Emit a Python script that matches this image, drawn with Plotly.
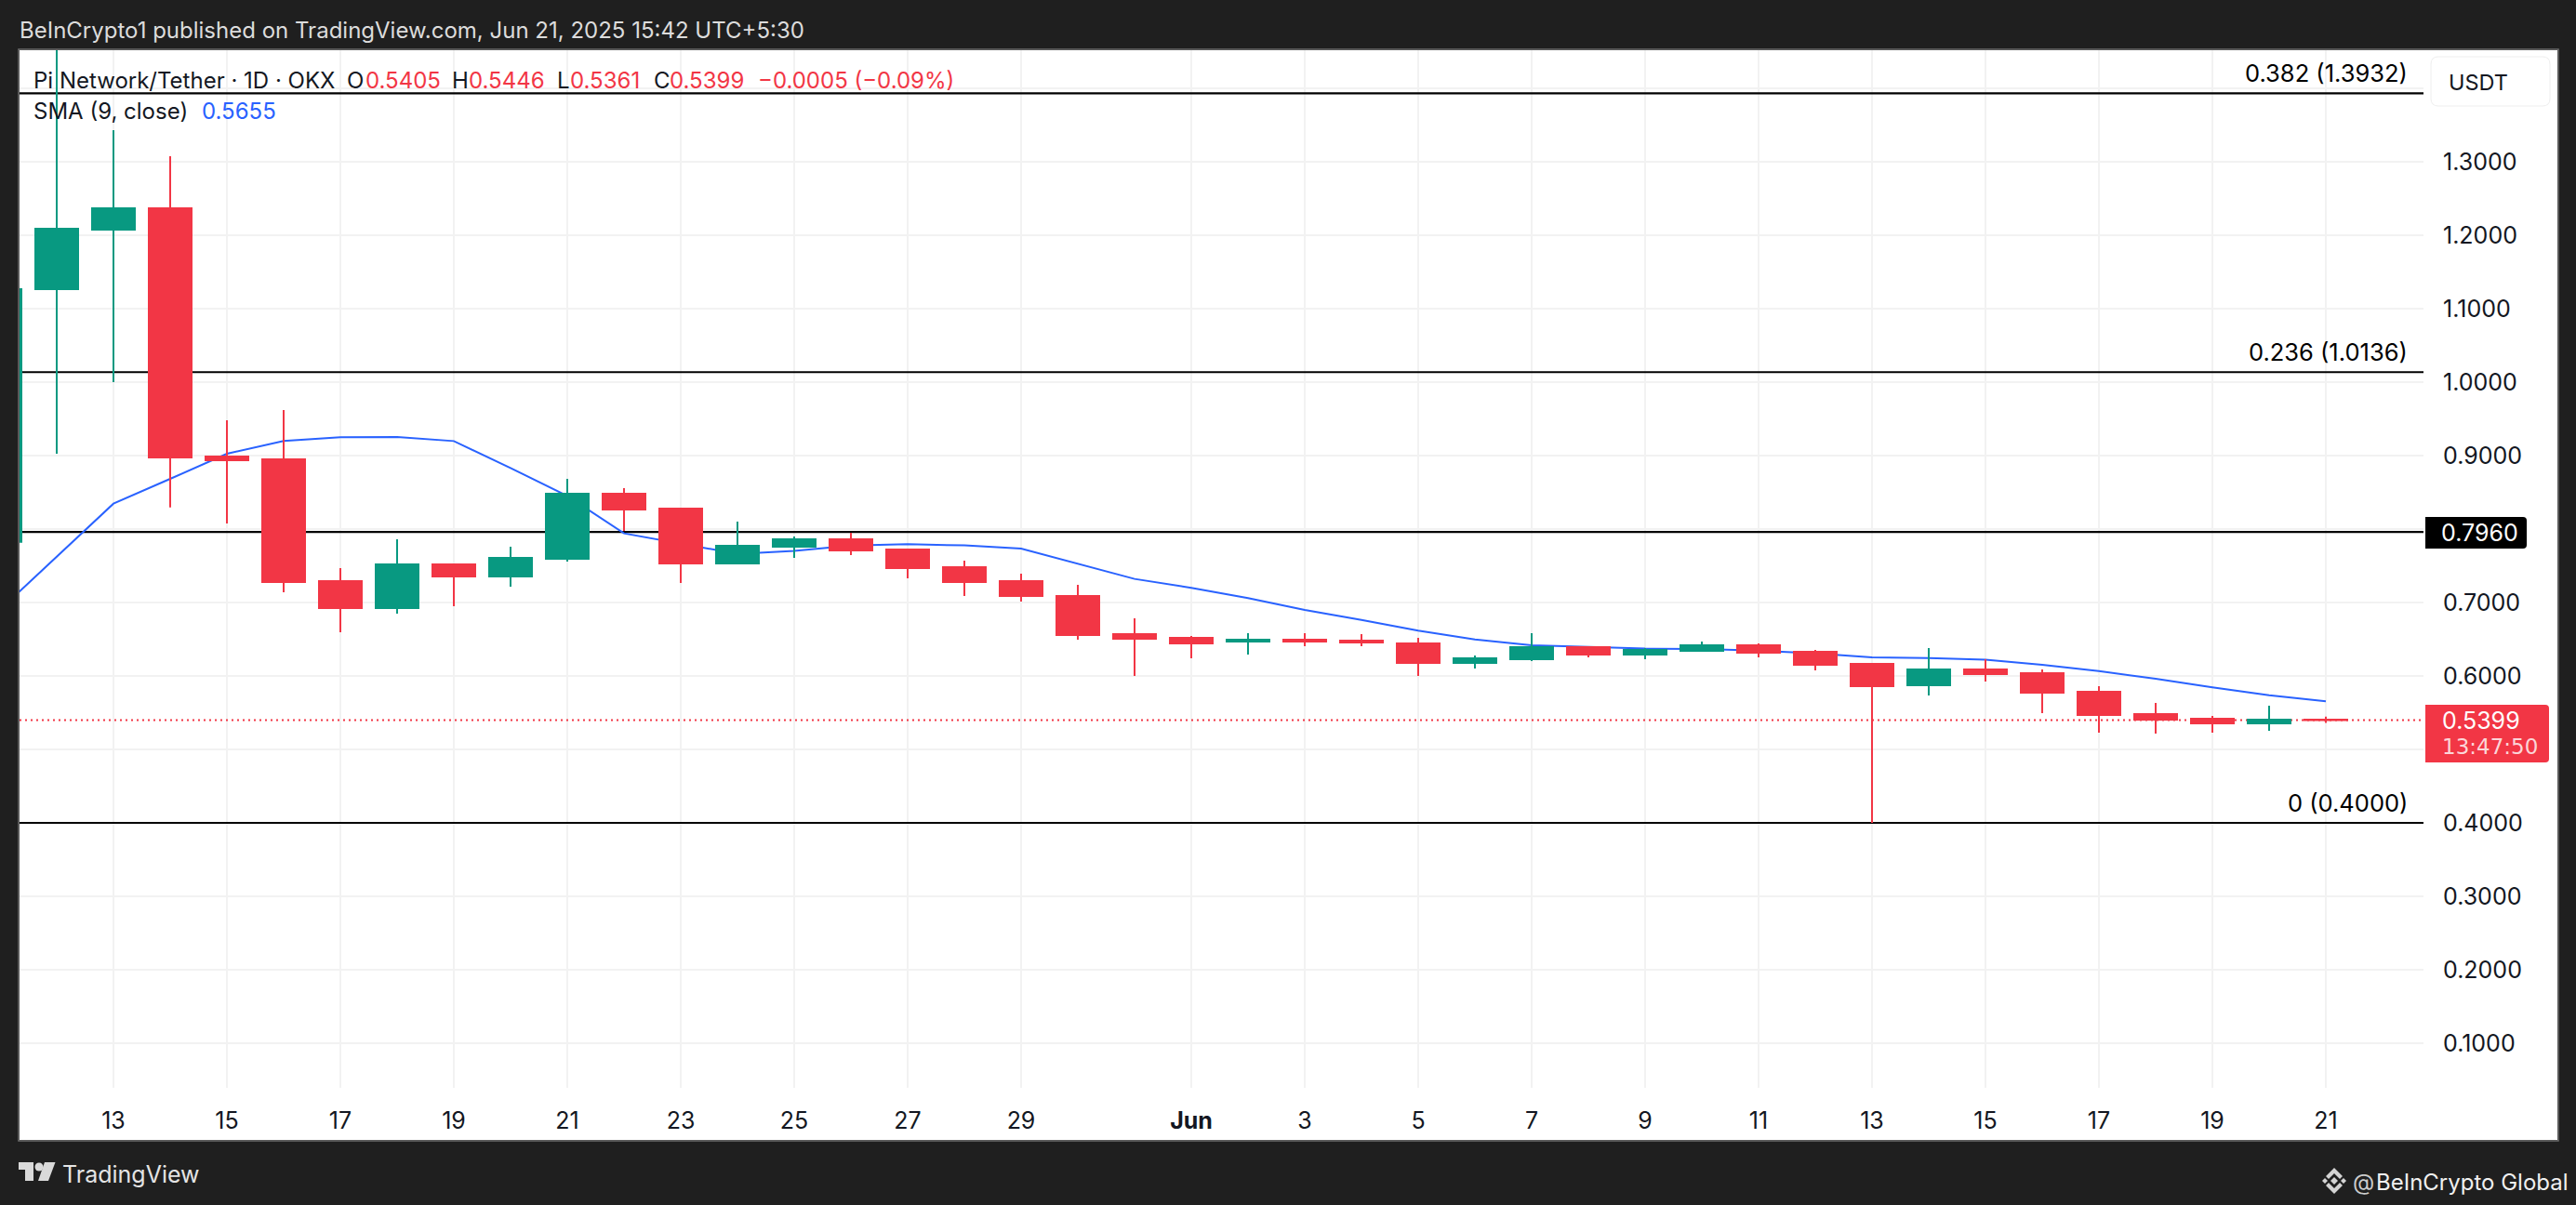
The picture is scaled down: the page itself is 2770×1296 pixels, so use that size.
import plotly.graph_objects as go
from datetime import date, timedelta, datetime

start = date(2025, 5, 11)
opens = [.7827,1.1266,1.2076,1.2367,.8987,.8949,.7291,.6924,.7519,.7354,.7595,.8481,.8278,.7531,.7759,.7861,.7721,
         .7481,.7292,.7089,.6570,.6519,.6469,.6494,.6481,.6443,.6178,.6228,.6393,.6292,.6342,.6418,.6329,.6164,.5873,.6088,.6038,.5785,.5481,.5418,.5354,.5405]
highs = [1.1500,1.6700,1.3430,1.3076,.9481,.9620,.7468,.7860,.7531,.7759,.8683,.8557,.8278,.8101,.7899,.7949,.7734,
         .7570,.7393,.7241,.6785,.6545,.6583,.6583,.6570,.6519,.6279,.6583,.6405,.6380,.6469,.6443,.6354,.6164,.6380,.6228,.6088,.5861,.5633,.5456,.5595,.5446]
lows = [.7000,.9025,1.0000,.8295,.8076,.7139,.6595,.6848,.6949,.7215,.7557,.7974,.7266,.7531,.7607,.7645,.7329,
        .7089,.7013,.6494,.6000,.6241,.6292,.6405,.6405,.6000,.6102,.6203,.6254,.6228,.6330,.6254,.6076,.4000,.5734,.5924,.5493,.5228,.5215,.5228,.5253,.5361]
closes = [1.1266,1.2089,1.2367,.8974,.8936,.7278,.6924,.7519,.7354,.7607,.8481,.8266,.7531,.7772,.7861,.7709,.7468,
          .7279,.7089,.6557,.6507,.6443,.6494,.6469,.6456,.6178,.6241,.6393,.6292,.6355,.6418,.6317,.6152,.5861,.6088,.6025,.5772,.5468,.5405,.5354,.5405,.5399]
sma = [.6902,.7628,.8346,.8683,.9025,.9198,.9249,.9253,.9198,.8831,.8451,.7941,.7797,.7662,.7704,.7776,.7793,
       .7778,.7734,.7524,.7321,.7199,.7059,.6899,.6764,.6616,.6498,.6418,.6397,.6372,.6367,.6345,.6308,.6253,.6245,.6223,.6152,.6067,.5962,.5844,.5738,.5655]
dates = [(start + timedelta(days=i)).isoformat() for i in range(len(closes))]

fib_levels = [1.3932, 1.0136, 0.7960, 0.4000]
fib_labels = ["0.382 (1.3932)", "0.236 (1.0136)", "", "0 (0.4000)"]
last_close = 0.5399
y_ticks = [0.1, 0.2, 0.3, 0.4, 0.5, 0.6, 0.7, 0.8, 0.9, 1.0, 1.1, 1.2, 1.3, 1.4]
y_labels = ["0.1000", "0.2000", "0.3000", "0.4000", "", "0.6000", "0.7000", "", "0.9000", "1.0000", "1.1000", "1.2000", "1.3000", ""]
x_ticks = ["2025-05-13","2025-05-15","2025-05-17","2025-05-19","2025-05-21","2025-05-23","2025-05-25","2025-05-27","2025-05-29",
           "2025-06-01","2025-06-03","2025-06-05","2025-06-07","2025-06-09","2025-06-11","2025-06-13","2025-06-15","2025-06-17","2025-06-19","2025-06-21"]
x_labels = ["13","15","17","19","21","23","25","27","29","<b>Jun</b>","3","5","7","9","11","13","15","17","19","21"]

W, H = 2770, 1296
L, R, T, B = 21, 2606, 54, 1170
RED, TEAL, BLUE, INK = "#f23645", "#089981", "#2962ff", "#131722"
DARK, GRID, FONT = "#1f1f1f", "#f2f2f2", "Inter"

def px(x): return (x - L) / (R - L)
def py(y): return (B - y) / (B - T)

ref = datetime(2025, 5, 13)
x0 = (ref + timedelta(days=(L - 122) / 61)).isoformat(sep=" ")
x1 = (ref + timedelta(days=(R - 122) / 61)).isoformat(sep=" ")
y_range = [1.3 - (B - 174) / 790, 1.3 + (174 - T) / 790]

fig = go.Figure()
for lv in fib_levels:
    fig.add_trace(go.Scatter(x=[x0, x1], y=[lv, lv], mode="lines", line=dict(color="#000000", width=2.2), yaxis="y", showlegend=False, hoverinfo="skip"))
fig.add_trace(go.Scatter(x=[x0, x1], y=[last_close, last_close], mode="lines", line=dict(color=RED, width=2, dash="2px,4px"), yaxis="y", showlegend=False, hoverinfo="skip"))
fig.add_trace(go.Scatter(x=dates, y=sma, mode="lines", line=dict(color=BLUE, width=2), yaxis="y", showlegend=False, hoverinfo="skip"))
fig.add_trace(go.Candlestick(
    x=dates, open=opens, high=highs, low=lows, close=closes, yaxis="y2", showlegend=False,
    increasing=dict(line=dict(color=TEAL, width=2), fillcolor=TEAL),
    decreasing=dict(line=dict(color=RED, width=2), fillcolor=RED),
))

shapes = []
def poly(points, color, layer="above"):
    d = "M" + " L".join(f"{px(a):.6f},{py(b):.6f}" for a, b in points) + " Z"
    shapes.append(dict(type="path", xref="paper", yref="paper", path=d, fillcolor=color, line=dict(width=0), layer=layer))
def rect(a, b, c, d, color, layer="above", line=None):
    shapes.append(dict(type="rect", xref="paper", yref="paper", x0=px(a), x1=px(c), y0=py(b), y1=py(d),
                       fillcolor=color, line=line or dict(width=0), layer=layer))

rect(L, T, 2750, 1226, "#ffffff", layer="below")
rect(L - 1, T - 1, 2751, 1227, "rgba(0,0,0,0)", line=dict(color="#6e6e6e", width=1.5))
# USDT box
shapes.append(dict(type="path", xref="paper", yref="paper", fillcolor="#ffffff", line=dict(color="#eeeeee", width=1), layer="above",
    path=f"M{px(2622)},{py(61)} L{px(2734)},{py(61)} Q{px(2742)},{py(61)} {px(2742)},{py(69)} L{px(2742)},{py(106)} Q{px(2742)},{py(114)} {px(2734)},{py(114)} "
         f"L{px(2622)},{py(114)} Q{px(2614)},{py(114)} {px(2614)},{py(106)} L{px(2614)},{py(69)} Q{px(2614)},{py(61)} {px(2622)},{py(61)} Z"))
# last price tags
def tag(a, b, c, d, color, r=4):
    shapes.append(dict(type="path", xref="paper", yref="paper", fillcolor=color, line=dict(width=0), layer="above",
        path=f"M{px(a)},{py(b)} L{px(c-r)},{py(b)} Q{px(c)},{py(b)} {px(c)},{py(b+r)} L{px(c)},{py(d-r)} Q{px(c)},{py(d)} {px(c-r)},{py(d)} L{px(a)},{py(d)} Z"))
tag(2608, 556, 2717, 590, "#000000")
tag(2608, 758, 2741, 820, RED)
# TradingView mark
LOGO = "#d9d9d9"
poly([(20,1250),(36,1250),(36,1270),(27,1270),(27,1258),(20,1258)], LOGO)
shapes.append(dict(type="circle", xref="paper", yref="paper", x0=px(37.5), x1=px(46.5), y0=py(1250.5), y1=py(1259.5), fillcolor=LOGO, line=dict(width=0)))
poly([(48,1250),(59.5,1250),(52,1270),(41,1270)], LOGO)
# Binance-style mark
cx, cy = 2510, 1270
MARK = "#d4d4d4"
poly([(cx,cy-4),(cx+4,cy),(cx,cy+4),(cx-4,cy)], MARK)
poly([(cx-13,cy),(cx-10,cy-3),(cx-7,cy),(cx-10,cy+3)], MARK)
poly([(cx+13,cy),(cx+10,cy-3),(cx+7,cy),(cx+10,cy+3)], MARK)
poly([(cx,cy-14),(cx+9,cy-5),(cx+6,cy-2),(cx,cy-8),(cx-6,cy-2),(cx-9,cy-5)], MARK)
poly([(cx,cy+14),(cx+9,cy+5),(cx+6,cy+2),(cx,cy+8),(cx-6,cy+2),(cx-9,cy+5)], MARK)

ann = []
def text(x, y, s, color=INK, size=24, anchor="left", **kw):
    ann.append(dict(xref="paper", yref="paper", x=px(x), y=py(y), text=s, showarrow=False, xanchor=anchor, yanchor="middle",
                    borderpad=0, borderwidth=0, font=dict(family=kw.pop("family", FONT), size=size, color=color), **kw))

text(21, 32, "BeInCrypto1 published on TradingView.com, Jun 21, 2025 15:42 UTC+5:30", "#dcdcdc", 24)
text(36, 86, "Pi Network/Tether · 1D · OKX")
for x, s, c in [(373,"O",INK),(393,"0.5405",RED),(486,"H",INK),(504,"0.5446",RED),(599,"L",INK),(613,"0.5361",RED),(703,"C",INK),(720,"0.5399",RED),(815,"−0.0005 (−0.09%)",RED)]:
    text(x, 86, s, c)
text(36, 120, "SMA (9, close)")
text(217, 120, "0.5655", BLUE)
for lv, lb in zip(fib_levels, fib_labels):
    if lb:
        ann.append(dict(xref="paper", yref="y", x=px(2589), y=lv, yshift=22, text=lb, showarrow=False, xanchor="right", yanchor="middle",
                        borderpad=0, borderwidth=0, font=dict(family=FONT, size=25.5, color="#000000")))
text(2633, 88, "USDT", size=23.5)
text(2625, 573, "0.7960", "#ffffff", 25)
text(2626, 775, "0.5399", "#ffffff", 25)
text(2626, 803, "13:47:50", "#fbd5d8", 23, family="DejaVu Sans")
text(67, 1263, "TradingView", "#e4e4e4", 25)
text(2530, 1271, "@", "#cccccc", 24)
text(2555, 1271, "BeInCrypto Global", "#f0f0f0", 24)

fig.update_layout(
    width=W, height=H, margin=dict(l=L, r=W - R, t=T, b=H - B, pad=0), paper_bgcolor=DARK, plot_bgcolor="#ffffff",
    showlegend=False, boxgap=0.246, boxgroupgap=0, shapes=shapes, annotations=ann, font=dict(family=FONT),
    xaxis=dict(type="date", range=[x0, x1], tickvals=x_ticks, ticktext=x_labels, showgrid=True,
               gridcolor=GRID, gridwidth=2, zeroline=False, showline=False, ticks="", ticklabelstandoff=18,
               tickfont=dict(family=FONT, size=25, color=INK), rangeslider=dict(visible=False), automargin=False),
    yaxis=dict(range=y_range, side="right", tickvals=y_ticks, ticktext=y_labels, showgrid=True, gridcolor=GRID, gridwidth=2,
               zeroline=False, showline=False, ticks="", ticklabelstandoff=20, tickfont=dict(family=FONT, size=25, color=INK), automargin=False),
    yaxis2=dict(range=y_range, overlaying="y", side="right", visible=False, showgrid=False),
)
fig.write_html("out.html", config=dict(displayModeBar=False),
               post_script="document.body.style.margin='0';document.documentElement.style.overflow='hidden';")
